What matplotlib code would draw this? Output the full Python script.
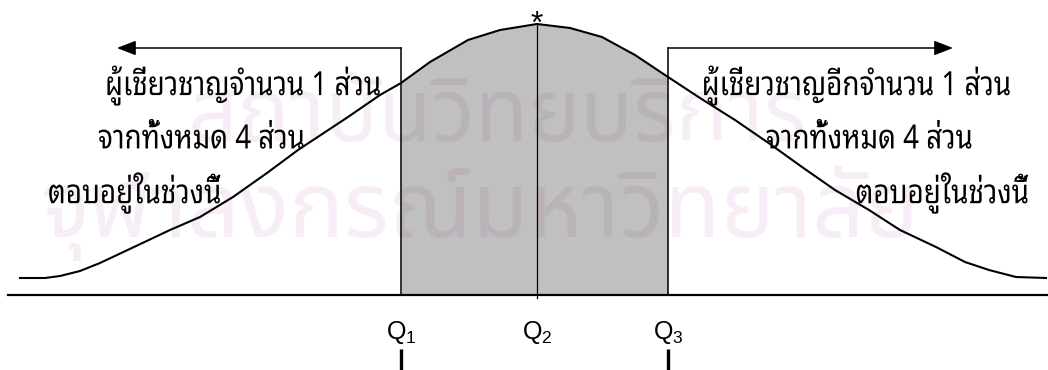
import matplotlib
matplotlib.use("Agg")
import matplotlib.pyplot as plt
from matplotlib import patheffects
from matplotlib.transforms import Affine2D
import numpy as np

curve_x = [20, 45, 60, 80, 100, 134, 170, 200, 233, 267, 298, 348, 380, 401,
           430, 468, 500, 537, 570, 602, 635, 668, 700, 735, 770, 802, 835,
           869, 900, 936, 965, 989, 1016, 1046]
curve_y = [278, 278, 276, 271, 263, 247, 230, 217, 197, 173, 150, 117, 95, 83,
           62, 40, 30, 24, 28, 37, 55, 77, 98, 120, 144, 167, 190,
           210, 230, 247, 262, 270, 277, 278]

quartile_names = ["1", "2", "3"]
quartile_x = [401, 537, 668]
baseline_y = 295

left_lines = ["ผู้เชี่ยวชาญจำนวน 1 ส่วน", "จากทั้งหมด 4 ส่วน", "ตอบอยู่ในช่วงนี้"]
right_lines = ["ผู้เชี่ยวชาญอีกจำนวน 1 ส่วน", "จากทั้งหมด 4 ส่วน", "ตอบอยู่ในช่วงนี้"]
watermark = ["สถาบันวิทยบริการ", "จุฬาลงกรณ์มหาวิทยาลัย"]

THAI = ["Noto Sans Thai Looped", "Noto Sans Thai", "DejaVu Sans"]
WM_FONT = ["Noto Sans Thai", "DejaVu Sans"]


class Stretch(patheffects.AbstractPathEffect):
    """Stretch a text path about its own centre (the page font is tall)."""

    def __init__(self, sx=1.0, sy=1.0):
        super().__init__()
        self.sx, self.sy = sx, sy

    def draw_path(self, renderer, gc, tpath, affine, rgbFace=None):
        bb = tpath.get_extents(affine)
        cx, cy = (bb.x0 + bb.x1) / 2, (bb.y0 + bb.y1) / 2
        t = affine + Affine2D().translate(-cx, -cy).scale(self.sx, self.sy).translate(cx, cy)
        renderer.draw_path(gc, tpath, t, rgbFace)


plt.rcParams["mathtext.fontset"] = "custom"
plt.rcParams["mathtext.rm"] = "Liberation Sans"

fig = plt.figure(figsize=(10.48, 3.70), dpi=100)
ax = fig.add_axes([0, 0, 1, 1])
ax.set_xlim(0, 1048)
ax.set_ylim(370, 0)
ax.axis("off")

x = np.array(curve_x)
y = np.array(curve_y)
q1, q2, q3 = quartile_x

# faint watermark from the scanned page, sits under everything
wm_style = dict(ha="center", va="center", family=WM_FONT, color="#bc71bc",
                alpha=0.12, zorder=0.5)
ax.text(498, 118, watermark[0], fontsize=63, **wm_style)
ax.text(480, 213, watermark[1], fontsize=66, **wm_style)

# shaded middle half (translucent so the watermark still shows through)
ax.fill_between(x, y, baseline_y, where=(x >= q1) & (x <= q3),
                color="black", alpha=0.247, linewidth=0, zorder=1)
ax.plot(x, y, color="black", lw=1.5, zorder=3)
ax.plot([8, 1048], [baseline_y, baseline_y], color="black", lw=1.6, zorder=3)

peak_y = y[x == q2][0]
ax.plot([q1, q1], [baseline_y, 48], color="black", lw=1.1, zorder=3)
ax.plot([q3, q3], [baseline_y, 48], color="black", lw=1.1, zorder=3)
ax.plot([q2, q2], [baseline_y + 3, peak_y], color="black", lw=0.9, zorder=3)
ax.text(q2, peak_y + 9, "*", ha="center", va="baseline", fontsize=23,
        family="Liberation Sans", zorder=4)

arrow = dict(arrowstyle="-|>,head_length=1.15,head_width=0.45",
             mutation_scale=10, color="black", lw=1.1, shrinkA=0, shrinkB=0)
ax.annotate("", xy=(117, 48), xytext=(q1, 48), arrowprops=arrow, zorder=3)
ax.annotate("", xy=(953, 48), xytext=(q3, 48), arrowprops=arrow, zorder=3)

# Q labels and the little marks under Q1 / Q3
for name, qx in zip(quartile_names, quartile_x):
    ax.text(qx, 333, r"$\mathrm{Q}_{" + name + "}$", ha="center", va="center",
            fontsize=18)
for qx in (q1, q3):
    ax.plot([qx, qx], [349, 370], color="black", lw=2.4, solid_capstyle="butt")

# Thai captions
line_y = [85, 139, 193]
left_x = [105, 98, 48]
right_x = [1011, 973, 1029]
tall = [Stretch(1.0, 1.2)]
for s, lx, ly in zip(left_lines, left_x, line_y):
    ax.text(lx, ly, s, ha="left", va="center", fontsize=20, family=THAI,
            zorder=4, path_effects=tall)
for s, rx, ly in zip(right_lines, right_x, line_y):
    ax.text(rx, ly, s, ha="right", va="center", fontsize=20, family=THAI,
            zorder=4, path_effects=tall)

fig.savefig("out.png", dpi=100)
